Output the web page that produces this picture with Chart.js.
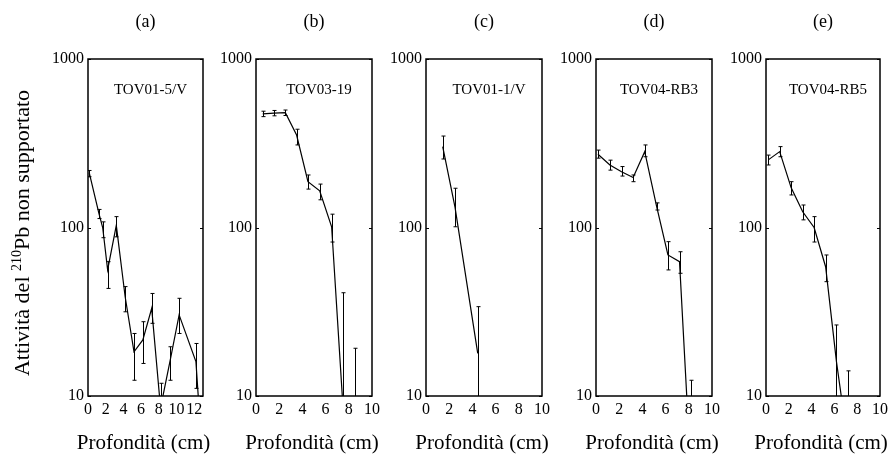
<!DOCTYPE html>
<html>
<head>
<meta charset="utf-8">
<script src="https://cdn.jsdelivr.net/npm/chart.js@4.4.1/dist/chart.umd.min.js"></script>
<style>
    html, body { margin: 0; padding: 0; background: #fff; }
    #wrap { position: relative; width: 892px; height: 456px; overflow: hidden; }
    canvas { position: absolute; top: 0; }
</style>
</head>
<body>
<div id="wrap"></div>
<script>
const FONT = "'Liberation Serif', 'Times New Roman', serif";

const panelLetters = ['(a)', '(b)', '(c)', '(d)', '(e)'];
const sampleNames = ['TOV01-5/V', 'TOV03-19', 'TOV01-1/V', 'TOV04-RB3', 'TOV04-RB5'];
const yTicks = [10, 100, 1000];
const xAxisTitle = 'Profondità (cm)';

// depth (cm), unsupported 210Pb activity, error bar low / high
const depthA = [0.15, 1.24, 1.66, 2.22, 3.2, 4.2, 5.2, 6.2, 7.2, 8.2, 9.3, 10.3, 12.2, 12.6];
const actA   = [210, 121, 100, 56, 103, 38.8, 18.3, 21.5, 33.1, 8.5, 16.4, 30.3, 16, 7.8];
const loA    = [200, 113, 87, 43.5, 88, 31.6, 12.4, 15.6, 27, 6, 12.4, 23.5, 11.1, null];
const hiA    = [218, 128, 108, 62.7, 116, 44.6, 23.5, 27.6, 40.6, 11.9, 19.6, 38, 20.5, null];

const depthB = [0.58, 1.55, 2.53, 3.5, 4.48, 5.49, 6.52, 7.5, 8.5];
const actB   = [472, 477, 480, 354, 187, 165, 101, 8.6, 5];
const loB    = [455, 460, 462, 309, 169, 146, 82, 3, 3];
const hiB    = [490, 495, 498, 383, 205, 181, 120, 41, 19.2];

const depthC = [1.44, 2.5, 4.46];
const actC   = [302, 132, 17.9];
const loC    = [255, 101, 3];
const hiC    = [349, 171, 33.9];

const depthD = [0.17, 1.2, 2.2, 3.2, 4.2, 5.23, 6.2, 7.2, 8.16];
const actD   = [272, 235, 214, 198, 282, 133, 68.7, 62.7, 3.7];
const loD    = [258, 219, 202, 187, 263, 127, 56, 53.5, 2];
const hiD    = [288, 251, 230, 205, 309, 140, 82.4, 71.8, 12.4];

const depthE = [0.2, 1.2, 2.21, 3.22, 4.22, 5.23, 6.18, 7.22];
const actE   = [252, 282, 172, 124, 100, 58.5, 16, 5];
const loE    = [235, 263, 156, 111, 82, 47.7, 5, 3];
const hiE    = [269, 302, 187, 136, 116, 68.7, 26.4, 14.1];

const xMaxes = [13, 10, 10, 10, 10];

const panels = [
    { depth: depthA, act: actA, lo: loA, hi: hiA },
    { depth: depthB, act: actB, lo: loB, hi: hiB },
    { depth: depthC, act: actC, lo: loC, hi: hiC },
    { depth: depthD, act: actD, lo: loD, hi: hiD },
    { depth: depthE, act: actE, lo: loE, hi: hiE }
];

// plot box edges in page pixels
const plotLeft = [88, 256, 426, 596, 766];
const plotRight = [203, 372, 542, 712, 882];
const Y_AXIS_W = 50;

function drawYTitle(ctx) {
    const fs = 22, fsSup = 14;
    const p1 = 'Attività del ', sup = '210', p2 = 'Pb non supportato';
    ctx.save();
    ctx.translate(23, 233);
    ctx.rotate(-Math.PI / 2);
    ctx.fillStyle = '#000';
    ctx.textBaseline = 'middle';
    ctx.textAlign = 'left';
    ctx.font = fs + 'px ' + FONT;
    const w1 = ctx.measureText(p1).width;
    const w3 = ctx.measureText(p2).width;
    ctx.font = fsSup + 'px ' + FONT;
    const w2 = ctx.measureText(sup).width;
    let x = -(w1 + w2 + w3) / 2;
    ctx.font = fs + 'px ' + FONT;
    ctx.fillText(p1, x, 0);
    x += w1;
    ctx.font = fsSup + 'px ' + FONT;
    ctx.fillText(sup, x, -6);
    x += w2;
    ctx.font = fs + 'px ' + FONT;
    ctx.fillText(p2, x, 0);
    ctx.restore();
}

function framePlugin(p, i) {
    return {
        id: 'frame' + i,
        afterDatasetsDraw(chart) {
            const { ctx, chartArea: a, scales } = chart;
            // error bars
            ctx.save();
            ctx.beginPath();
            ctx.rect(a.left, a.top, a.right - a.left, a.bottom - a.top);
            ctx.clip();
            ctx.strokeStyle = '#000';
            ctx.lineWidth = 1;
            p.depth.forEach((d, k) => {
                if (p.lo[k] == null) return;
                const x = Math.round(scales.x.getPixelForValue(d)) + 0.5;
                const y1 = scales.y.getPixelForValue(p.lo[k]);
                const y2 = scales.y.getPixelForValue(p.hi[k]);
                ctx.beginPath();
                ctx.moveTo(x, y1); ctx.lineTo(x, y2);
                ctx.moveTo(x - 2, y1); ctx.lineTo(x + 2, y1);
                ctx.moveTo(x - 2, y2); ctx.lineTo(x + 2, y2);
                ctx.stroke();
            });
            ctx.restore();
        },
        afterDraw(chart) {
            const { ctx, chartArea: a, scales } = chart;
            ctx.save();
            ctx.strokeStyle = '#000';
            ctx.lineWidth = 1.5;
            ctx.strokeRect(a.left, a.top, a.right - a.left, a.bottom - a.top);
            ctx.lineWidth = 1;
            yTicks.forEach(v => {
                const y = Math.round(scales.y.getPixelForValue(v)) + 0.5;
                ctx.beginPath();
                ctx.moveTo(a.left, y); ctx.lineTo(a.left + 3, y);
                ctx.moveTo(a.right, y); ctx.lineTo(a.right - 3, y);
                ctx.stroke();
            });
            const cx = (a.left + a.right) / 2;
            ctx.fillStyle = '#000';
            ctx.textAlign = 'center';
            ctx.textBaseline = 'middle';
            ctx.font = '18px ' + FONT;
            ctx.fillText(panelLetters[i], cx, 22);
            ctx.font = '15px ' + FONT;
            ctx.fillText(sampleNames[i], cx + 5, 90);
            ctx.font = '21px ' + FONT;
            ctx.fillText(xAxisTitle, cx - 2, 443);
            ctx.restore();
            if (i === 0) drawYTitle(ctx);
        }
    };
}

const wrap = document.getElementById('wrap');

panels.forEach((p, i) => {
    const left = i === 0 ? 0 : plotLeft[i] - Y_AXIS_W;
    const padLeft = i === 0 ? plotLeft[0] - Y_AXIS_W : 0;
    const width = i === 4 ? 892 - left : plotRight[i] - left + 12;
    const canvas = document.createElement('canvas');
    canvas.width = width;
    canvas.height = 456;
    canvas.style.left = left + 'px';
    canvas.style.width = width + 'px';
    canvas.style.height = '456px';
    wrap.appendChild(canvas);

    new Chart(canvas, {
        type: 'line',
        data: {
            datasets: [{
                data: p.depth.map((d, k) => ({ x: d, y: p.act[k] })),
                borderColor: '#000',
                borderWidth: 1.2,
                pointRadius: 0,
                tension: 0,
                fill: false
            }]
        },
        options: {
            responsive: false,
            animation: false,
            devicePixelRatio: 1,
            layout: { padding: { top: 59, right: width - (plotRight[i] - left), left: padLeft, bottom: 0 } },
            plugins: {
                legend: { display: false },
                tooltip: { enabled: false }
            },
            scales: {
                x: {
                    type: 'linear',
                    min: 0,
                    max: xMaxes[i],
                    grid: { display: false, drawTicks: false },
                    border: { display: false },
                    ticks: {
                        stepSize: 2,
                        includeBounds: false,
                        maxRotation: 0,
                        autoSkip: false,
                        padding: 4,
                        color: '#000',
                        font: { family: FONT, size: 16 }
                    },
                    title: { display: false },
                    afterFit: s => { s.height = 60; }
                },
                y: {
                    type: 'logarithmic',
                    min: 10,
                    max: 1000,
                    grid: { display: false, drawTicks: false },
                    border: { display: false },
                    ticks: {
                        autoSkip: false,
                        padding: 4,
                        color: '#000',
                        font: { family: FONT, size: 16 },
                        callback: v => yTicks.includes(v) ? String(v) : ''
                    },
                    afterFit: s => { s.width = Y_AXIS_W; }
                }
            }
        },
        plugins: [framePlugin(p, i)]
    });
});
</script>
</body>
</html>
